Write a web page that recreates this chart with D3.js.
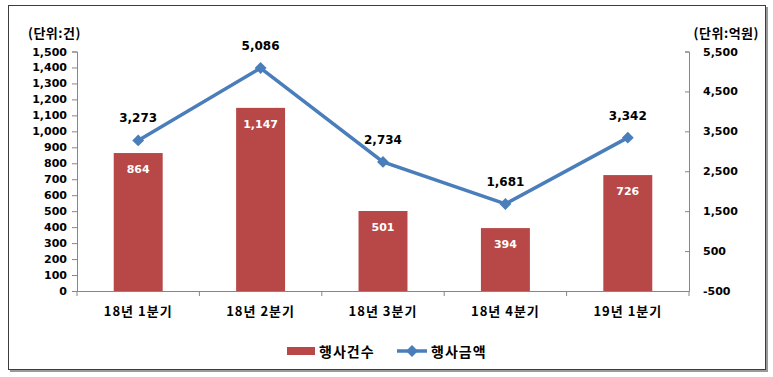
<!DOCTYPE html>
<html>
<head>
<meta charset="utf-8">
<script src="https://cdn.jsdelivr.net/npm/d3@7"></script>
<style>
  body { margin: 0; background: #fff; }
  text { font-family: "DejaVu Sans", "Noto Sans CJK KR", sans-serif; font-weight: bold; }
  .kr { font-family: "Noto Sans CJK KR", sans-serif; }
</style>
</head>
<body>
<div id="chart"></div>
<script>
// values
let quarters = ["18년 1분기", "18년 2분기", "18년 3분기", "18년 4분기", "19년 1분기"];
let counts = [864, 1147, 501, 394, 726];       // 행사건수 (건)
let amounts = [3273, 5086, 2734, 1681, 3342];  // 행사금액 (억원)
let leftTicks = d3.range(0, 1501, 100);
let rightTicks = [-500, 500, 1500, 2500, 3500, 4500, 5500];

let fmt = d => d3.format(",")(d).replace("−", "-");

function getConfig(){
    let width = 773, height = 377;
    let margin = { top: 51.5, bottom: 86, left: 77, right: 84 };
    let bodyWidth = width - margin.left - margin.right;
    let bodyHeight = height - margin.top - margin.bottom;
    let svg = d3.select("#chart").append("svg")
        .attr("width", width)
        .attr("height", height);
    return { width, height, margin, bodyWidth, bodyHeight, svg };
}

function getScales(config){
    let { bodyWidth, bodyHeight } = config;
    let xScale = d3.scaleBand().domain(quarters).range([0, bodyWidth]).paddingInner(0.6).paddingOuter(0.3);
    let xOuter = d3.scaleBand().domain(quarters).range([0, bodyWidth]);
    let yLeft = d3.scaleLinear().domain([0, 1500]).range([bodyHeight, 0]);
    let yRight = d3.scaleLinear().domain([-500, 5500]).range([bodyHeight, 0]);
    return { xScale, xOuter, yLeft, yRight };
}

function drawChart(config, scales){
    let { svg, margin, bodyWidth, bodyHeight } = config;
    let { xScale, xOuter, yLeft, yRight } = scales;

    // outer frame with a small shadow
    svg.append("rect").attr("x", 10).attr("y", 7).attr("width", 758).attr("height", 365)
        .attr("fill", "#9a9a9a");
    svg.append("rect").attr("x", 8.5).attr("y", 5.5).attr("width", 757).attr("height", 364)
        .attr("fill", "#fff").attr("stroke", "#3c3c3c").attr("stroke-width", 1);

    let g = svg.append("g").attr("transform", "translate(" + [margin.left, margin.top] + ")");

    // bars
    g.selectAll("rect.bar").data(counts).enter().append("rect")
        .attr("class", "bar")
        .attr("x", (d, i) => xScale(quarters[i]))
        .attr("y", d => yLeft(d))
        .attr("width", xScale.bandwidth())
        .attr("height", d => bodyHeight - yLeft(d))
        .attr("fill", "#b84747");

    g.selectAll("text.barlbl").data(counts).enter().append("text")
        .attr("class", "barlbl")
        .attr("x", (d, i) => xScale(quarters[i]) + xScale.bandwidth() / 2)
        .attr("y", d => yLeft(d) + 20)
        .attr("text-anchor", "middle")
        .attr("fill", "#fff")
        .style("font-size", "11px")
        .text(fmt);

    // left axis
    let axisL = d3.axisLeft(yLeft).tickValues(leftTicks).tickFormat(fmt).tickSize(5).tickPadding(5);
    let gl = g.append("g").call(axisL);
    gl.selectAll("text").style("font-size", "11px").attr("fill", "#000");
    gl.selectAll("line, path").attr("stroke", "#868686");

    // right axis
    let axisR = d3.axisRight(yRight).tickValues(rightTicks).tickFormat(fmt).tickSize(-4).tickPadding(14);
    let gr = g.append("g").attr("transform", "translate(" + bodyWidth + ",0)").call(axisR);
    gr.selectAll("text").style("font-size", "11px").attr("fill", "#000");
    gr.selectAll("line, path").attr("stroke", "#868686");

    // bottom axis
    let axisB = d3.axisBottom(xOuter).tickSize(0).tickPadding(16);
    let gb = g.append("g").attr("transform", "translate(0," + bodyHeight + ")").call(axisB);
    gb.selectAll("text").attr("class", "kr").style("font-size", "13px")
        .style("letter-spacing", "1px").attr("fill", "#000");
    gb.selectAll("path").attr("stroke", "#868686");
    d3.range(quarters.length + 1).forEach(i => {
        gb.append("line").attr("x1", i * xOuter.step()).attr("x2", i * xOuter.step())
            .attr("y1", 0).attr("y2", 5).attr("stroke", "#868686");
    });

    // line series
    let cx = (d, i) => xOuter(quarters[i]) + xOuter.bandwidth() / 2;
    let line = d3.line().x(cx).y(d => yRight(d));
    g.append("path").datum(amounts).attr("d", line)
        .attr("fill", "none").attr("stroke", "#4a7ebb").attr("stroke-width", 3.5);
    let diamond = d3.symbol().type(d3.symbolDiamond2).size(90);
    g.selectAll("path.mk").data(amounts).enter().append("path")
        .attr("class", "mk")
        .attr("d", diamond)
        .attr("transform", (d, i) => "translate(" + [cx(d, i), yRight(d)] + ")")
        .attr("fill", "#4a7ebb");
    g.selectAll("text.linelbl").data(amounts).enter().append("text")
        .attr("class", "linelbl")
        .attr("x", cx)
        .attr("y", d => yRight(d) - 18)
        .attr("text-anchor", "middle")
        .style("font-size", "12px")
        .text(fmt);

    // unit labels
    svg.append("text").attr("class", "kr").attr("x", 28).attr("y", 38)
        .style("font-size", "13px").style("letter-spacing", "0.5px").text("(단위:건)");
    svg.append("text").attr("class", "kr").attr("x", 759).attr("y", 38).attr("text-anchor", "end")
        .style("font-size", "13px").style("letter-spacing", "0.5px").text("(단위:억원)");

    // legend
    let lg = svg.append("g").attr("transform", "translate(287,351)");
    lg.append("rect").attr("x", 0).attr("y", -4).attr("width", 28).attr("height", 8).attr("fill", "#b84747");
    lg.append("text").attr("class", "kr").attr("x", 32).attr("y", 5.5)
        .style("font-size", "14px").style("letter-spacing", "1px").text("행사건수");
    lg.append("line").attr("x1", 110).attr("x2", 140).attr("y1", 0).attr("y2", 0)
        .attr("stroke", "#4a7ebb").attr("stroke-width", 3.5);
    lg.append("path").attr("d", diamond).attr("transform", "translate(125,0)").attr("fill", "#4a7ebb");
    lg.append("text").attr("class", "kr").attr("x", 144).attr("y", 5.5)
        .style("font-size", "14px").style("letter-spacing", "1px").text("행사금액");
}

let config = getConfig();
let scales = getScales(config);
drawChart(config, scales);
</script>
</body>
</html>
